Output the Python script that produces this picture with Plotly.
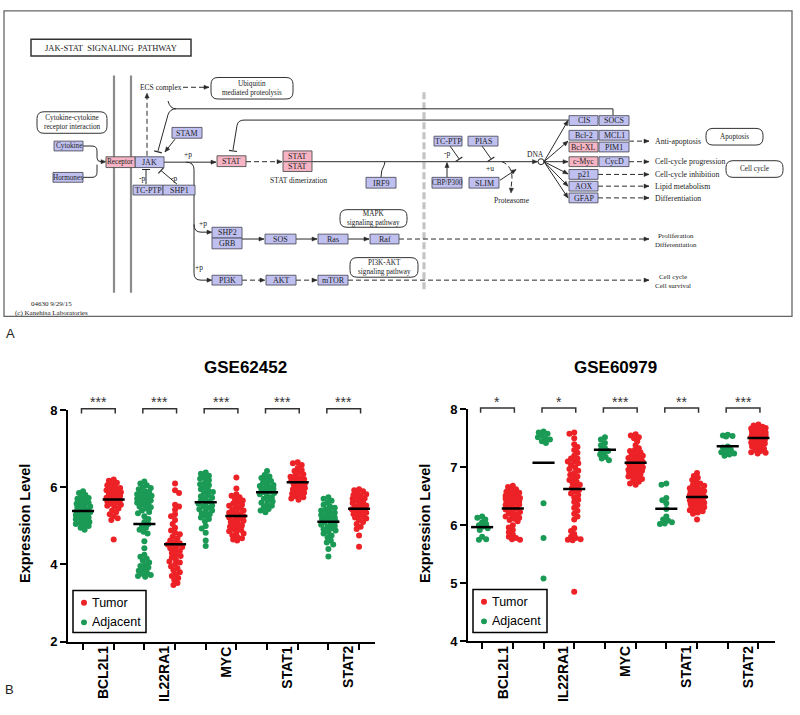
import math
import plotly.graph_objects as go

# ======================= DATA =======================
GENES = ["BCL2L1", "IL22RA1", "MYC", "STAT1", "STAT2"]
GROUP_NAMES = ["Tumor", "Adjacent"]
DATASETS = ["GSE62452", "GSE60979"]
SIG_GSE62452 = ["***", "***", "***", "***", "***"]
SIG_GSE60979 = ["*", "*", "***", "**", "***"]
YTICKS_GSE62452 = [2, 4, 6, 8]
YTICKS_GSE60979 = [4, 5, 6, 7, 8]
Y_TITLE = "Expression Level"

# GSE62452 - Adjacent
adj62_BCL2L1 = [5.90, 5.85, 5.80, 5.75, 5.72, 5.70, 5.66, 5.62, 5.60, 5.57, 5.55, 5.52, 5.50, 5.48, 5.45,
                5.42, 5.40, 5.38, 5.37, 5.35, 5.33, 5.30, 5.28, 5.25, 5.22, 5.20, 5.17, 5.13, 5.10, 5.08,
                5.05, 5.02, 5.00, 4.95, 4.90]
adj62_IL22RA1 = [6.15, 6.10, 6.05, 6.00, 5.98, 5.95, 5.90, 5.88, 5.85, 5.82, 5.80, 5.78, 5.75, 5.72, 5.70,
                 5.66, 5.65, 5.62, 5.60, 5.58, 5.54, 5.50, 5.48, 5.45, 5.40, 5.36, 5.33, 5.25, 5.18, 5.10,
                 5.05, 5.00, 4.95, 4.90, 4.85, 4.80, 4.60, 4.42, 4.25, 4.20, 4.15, 4.10, 4.05, 4.00, 3.96,
                 3.92, 3.88, 3.84, 3.80, 3.76, 3.73, 3.70, 3.68]
adj62_MYC = [6.38, 6.35, 6.30, 6.25, 6.22, 6.18, 6.12, 6.08, 6.05, 6.00, 5.95, 5.92, 5.88, 5.85, 5.80,
             5.77, 5.73, 5.70, 5.66, 5.63, 5.60, 5.57, 5.53, 5.50, 5.47, 5.43, 5.40, 5.37, 5.33, 5.30,
             5.26, 5.22, 5.18, 5.12, 5.00, 4.93, 4.82, 4.62, 4.48]
adj62_STAT1 = [6.42, 6.32, 6.28, 6.24, 6.20, 6.16, 6.12, 6.09, 6.06, 6.03, 6.00, 5.98, 5.96, 5.94, 5.92,
               5.90, 5.88, 5.85, 5.82, 5.78, 5.74, 5.70, 5.67, 5.63, 5.60, 5.56, 5.52, 5.48, 5.44, 5.40,
               5.35]
adj62_STAT2 = [5.74, 5.70, 5.65, 5.60, 5.55, 5.50, 5.47, 5.43, 5.40, 5.37, 5.34, 5.31, 5.28, 5.25, 5.22,
               5.20, 5.18, 5.16, 5.14, 5.12, 5.09, 5.06, 5.03, 5.00, 4.97, 4.94, 4.91, 4.88, 4.84, 4.80,
               4.75, 4.70, 4.62, 4.57, 4.52, 4.40, 4.21]

# GSE62452 - Tumor
tum62_BCL2L1 = [6.20, 6.17, 6.12, 6.08, 6.05, 6.00, 5.98, 5.95, 5.92, 5.90, 5.87, 5.85, 5.82, 5.80, 5.78,
                5.75, 5.73, 5.70, 5.69, 5.68, 5.66, 5.63, 5.60, 5.57, 5.55, 5.52, 5.50, 5.45, 5.40, 5.35,
                5.30, 5.25, 5.20, 5.15, 4.65]
tum62_IL22RA1 = [6.10, 5.92, 5.85, 5.55, 5.50, 5.42, 5.30, 5.25, 5.15, 5.05, 4.95, 4.88, 4.82, 4.78, 4.72,
                 4.68, 4.62, 4.58, 4.55, 4.52, 4.50, 4.48, 4.45, 4.42, 4.38, 4.35, 4.30, 4.25, 4.22, 4.18,
                 4.12, 4.08, 4.05, 4.00, 3.95, 3.90, 3.85, 3.80, 3.75, 3.70, 3.65, 3.60, 3.52, 3.47]
tum62_MYC = [6.25, 5.97, 5.82, 5.78, 5.74, 5.70, 5.66, 5.62, 5.58, 5.55, 5.52, 5.49, 5.46, 5.43, 5.40,
             5.37, 5.34, 5.31, 5.29, 5.27, 5.25, 5.22, 5.19, 5.16, 5.13, 5.10, 5.07, 5.04, 5.01, 4.98,
             4.95, 4.92, 4.89, 4.86, 4.83, 4.80, 4.76, 4.72, 4.68, 4.65, 4.62]
tum62_STAT1 = [6.65, 6.62, 6.58, 6.50, 6.45, 6.42, 6.38, 6.34, 6.30, 6.27, 6.24, 6.21, 6.19, 6.17, 6.15,
               6.13, 6.10, 6.07, 6.04, 6.01, 5.98, 5.95, 5.92, 5.89, 5.86, 5.83, 5.80, 5.77, 5.74, 5.71,
               5.68]
tum62_STAT2 = [5.95, 5.92, 5.90, 5.86, 5.82, 5.80, 5.78, 5.74, 5.71, 5.70, 5.68, 5.65, 5.62, 5.59, 5.56,
               5.53, 5.51, 5.49, 5.47, 5.45, 5.43, 5.40, 5.37, 5.34, 5.31, 5.28, 5.25, 5.22, 5.19, 5.15,
               5.10, 5.05, 4.98, 4.92, 4.75, 4.46]

# GSE60979 - Adjacent
adj60_BCL2L1 = [6.15, 6.13, 6.10, 6.05, 6.02, 6.00, 5.98, 5.95, 5.92, 5.80, 5.76, 5.75]
adj60_IL22RA1 = [7.62, 7.60, 7.58, 7.55, 7.52, 7.50, 7.48, 7.45, 7.42, 6.38, 5.78, 5.08]
adj60_MYC = [7.52, 7.48, 7.42, 7.38, 7.33, 7.30, 7.28, 7.25, 7.22, 7.18, 7.15, 7.12]
adj60_STAT1 = [6.72, 6.70, 6.47, 6.43, 6.38, 6.28, 6.15, 6.10, 6.08, 6.05, 6.03, 6.02]
adj60_STAT2 = [7.56, 7.55, 7.54, 7.53, 7.36, 7.34, 7.30, 7.28, 7.26, 7.24, 7.22, 7.20]

# GSE60979 - Tumor
tum60_BCL2L1 = [6.68, 6.66, 6.62, 6.60, 6.58, 6.56, 6.54, 6.52, 6.50, 6.48, 6.51, 6.50, 6.49, 6.48, 6.47,
                6.46, 6.45, 6.44, 6.43, 6.42, 6.41, 6.40, 6.39, 6.38, 6.36, 6.35, 6.33, 6.31, 6.29, 6.27,
                6.25, 6.23, 6.21, 6.19, 6.17, 6.15, 6.13, 6.11, 6.09, 6.07, 6.00, 5.96, 5.92, 5.88, 5.84,
                5.80, 5.78, 5.76, 5.75]
tum60_IL22RA1 = [7.60, 7.58, 7.50, 7.40, 7.35, 7.30, 7.25, 7.20, 7.15, 7.10, 7.15, 7.10, 7.07, 7.04, 7.00,
                 6.97, 6.94, 6.90, 6.87, 6.84, 6.81, 6.78, 6.75, 6.72, 6.70, 6.67, 6.64, 6.61, 6.58, 6.55,
                 6.52, 6.48, 6.44, 6.40, 6.35, 6.30, 6.25, 6.20, 6.15, 6.10, 5.95, 5.90, 5.85, 5.80, 5.78,
                 5.76, 5.75, 5.74, 4.85]
tum60_MYC = [7.57, 7.55, 7.52, 7.50, 7.45, 7.38, 7.33, 7.30, 7.28, 7.26, 7.24, 7.22, 7.20, 7.18, 7.16,
             7.15, 7.14, 7.12, 7.11, 7.10, 7.09, 7.08, 7.07, 7.06, 7.05, 7.04, 7.03, 7.02, 7.01, 7.00,
             6.99, 6.98, 6.97, 6.96, 6.95, 6.94, 6.93, 6.92, 6.91, 6.90, 6.88, 6.86, 6.84, 6.82, 6.80,
             6.78, 6.75, 6.72, 6.70]
tum60_STAT1 = [6.90, 6.85, 6.82, 6.78, 6.75, 6.72, 6.70, 6.68, 6.66, 6.64, 6.62, 6.61, 6.60, 6.59, 6.58,
               6.57, 6.56, 6.55, 6.54, 6.53, 6.52, 6.51, 6.50, 6.49, 6.48, 6.47, 6.46, 6.45, 6.44, 6.43,
               6.42, 6.41, 6.40, 6.39, 6.38, 6.37, 6.36, 6.35, 6.34, 6.33, 6.32, 6.31, 6.30, 6.28, 6.26,
               6.24, 6.22, 6.20, 6.10]
tum60_STAT2 = [7.74, 7.72, 7.70, 7.69, 7.68, 7.67, 7.66, 7.65, 7.64, 7.63, 7.62, 7.61, 7.60, 7.59, 7.58,
               7.57, 7.56, 7.55, 7.54, 7.53, 7.53, 7.52, 7.52, 7.51, 7.51, 7.50, 7.50, 7.49, 7.49, 7.48,
               7.48, 7.47, 7.47, 7.46, 7.45, 7.44, 7.43, 7.42, 7.41, 7.40, 7.38, 7.36, 7.34, 7.32, 7.30,
               7.28, 7.26, 7.25, 7.24]

ADJ_GSE62452 = [adj62_BCL2L1, adj62_IL22RA1, adj62_MYC, adj62_STAT1, adj62_STAT2]
TUM_GSE62452 = [tum62_BCL2L1, tum62_IL22RA1, tum62_MYC, tum62_STAT1, tum62_STAT2]
ADJ_GSE60979 = [adj60_BCL2L1, adj60_IL22RA1, adj60_MYC, adj60_STAT1, adj60_STAT2]
TUM_GSE60979 = [tum60_BCL2L1, tum60_IL22RA1, tum60_MYC, tum60_STAT1, tum60_STAT2]

# ======================= STYLE =======================
W, H = 800, 715
RED = "#ec2227"
GREEN = "#1b9a56"
SANS = "Liberation Sans, Arial, sans-serif"
SERIF = "Liberation Serif, Times New Roman, serif"
LAV = "#bfc0f0"
PINK = "#f6b4c4"
LINE = "#2a2a2a"
TXT = "#222222"
XPU = 30.67  # pixels per x unit on both dot plots


def py(p):
    return 1 - p / H


def px(p):
    return p / W


def swarm(vals, ypu, dmin=4.3, cap=7.2):
    """deterministic beeswarm offsets (x units), width capped like a Prism dot plot"""
    order = sorted(range(len(vals)), key=lambda i: -vals[i])
    placed = []
    offs = [0.0] * len(vals)
    for n, i in enumerate(order):
        yv = vals[i] * ypu
        sgn = 1 if n % 2 == 0 else -1
        cand = [0.0]
        s = 1
        while s * 0.8 <= cap:
            cand += [sgn * s * 0.8, -sgn * s * 0.8]
            s += 1
        best, bestd = 0.0, -1.0
        for c in cand:
            d = min([math.hypot(c - a, yv - b) for a, b in placed] or [99])
            if d >= dmin:
                best = c
                break
            if d > bestd + 0.3:
                best, bestd = c, d
        placed.append((best, yv))
        offs[i] = best / XPU
    return offs


fig = go.Figure()
shapes = []
anns = []

PANELS = [
    dict(name=DATASETS[0], xa="x", ya="y", adj=ADJ_GSE62452, tum=TUM_GSE62452, sig=SIG_GSE62452,
         ypu=39.43, xdom=[px(68), px(375)], ydom=[py(648.3), py(411.7)], yr=[2, 8],
         yt=YTICKS_GSE62452, xr=[-0.49, 9.52], cx=245, ytx=25, leg=(73, 596, 146, 639)),
    dict(name=DATASETS[1], xa="x2", ya="y2", adj=ADJ_GSE60979, tum=TUM_GSE60979, sig=SIG_GSE60979,
         ypu=59.17, xdom=[px(468), px(775)], ydom=[py(647.7), py(411)], yr=[4, 8],
         yt=YTICKS_GSE60979, xr=[-0.46, 9.54], cx=615, ytx=425, leg=(473, 595, 547, 639)),
]

for k, P in enumerate(PANELS):
    xa, ya = P["xa"], P["ya"]
    for gi, gene in enumerate(GENES):
        for j, (vals, col) in enumerate([(P["adj"][gi], GREEN), (P["tum"][gi], RED)]):
            pos = 2 * gi + j
            offs = swarm(vals, P["ypu"])
            fig.add_trace(go.Scatter(
                x=[pos + o for o in offs], y=vals, mode="markers", xaxis=xa, yaxis=ya,
                marker=dict(color=col, size=6, line=dict(width=0)), showlegend=False,
                name=GROUP_NAMES[1 - j], hoverinfo="skip"))
            m = sum(vals) / len(vals)
            fig.add_trace(go.Scatter(
                x=[pos - 0.36, pos + 0.36], y=[m, m], mode="lines", xaxis=xa, yaxis=ya,
                line=dict(color="black", width=2.5), showlegend=False, hoverinfo="skip"))
        # significance bracket
        shapes.append(dict(type="path", xref=xa, yref=ya + " domain",
                           path=f"M {2*gi-0.05},0.985 L {2*gi-0.05},1.006 L {2*gi+1.05},1.006 L {2*gi+1.05},0.985",
                           line=dict(color="#333", width=1.5)))
        anns.append(dict(text=P["sig"][gi], xref=xa, yref="paper", x=2 * gi + 0.5, y=py(403),
                         showarrow=False, font=dict(family=SANS, size=14, color="#333"),
                         xanchor="center", yanchor="middle"))
        anns.append(dict(text=gene, xref=xa, yref="paper", x=2 * gi + 0.66, y=py(651),
                         showarrow=False, textangle=-90, xanchor="center", yanchor="top",
                         font=dict(family=SANS, size=14, color="black", weight="bold")))
    ax_common = dict(showgrid=False, zeroline=False, showline=True, linecolor="black", linewidth=2,
                     ticks="outside", tickcolor="black", ticklen=6, tickwidth=2)
    fig.update_layout(**{
        ("xaxis" if xa == "x" else "xaxis2"): dict(domain=P["xdom"], range=P["xr"], anchor=ya,
                                                  tickvals=list(range(10)), ticktext=[""] * 10,
                                                  fixedrange=True, **ax_common),
        ("yaxis" if ya == "y" else "yaxis2"): dict(domain=P["ydom"], range=P["yr"], anchor=xa,
                                                  tickvals=P["yt"], fixedrange=True,
                                                  tickfont=dict(family=SANS, size=13, color="black",
                                                                weight="bold"), **ax_common),
    })
    anns.append(dict(text=P["name"], xref="paper", yref="paper", x=px(P["cx"]), y=py(368),
                     xanchor="center", yanchor="middle", showarrow=False,
                     font=dict(family=SANS, size=17, color="black", weight="bold")))
    anns.append(dict(text=Y_TITLE, xref="paper", yref="paper", x=px(P["ytx"]), y=py(528),
                     xanchor="center", yanchor="middle", showarrow=False, textangle=-90,
                     font=dict(family=SANS, size=14.5, color="black", weight="bold")))
    # legend box (manual, compact like the original)
    x0, y0, x1, y1 = P["leg"]
    shapes.append(dict(type="rect", xref="paper", yref="paper", x0=px(x0), x1=px(x1), y0=py(y0), y1=py(y1),
                       line=dict(color="black", width=1.5), fillcolor="white"))
    for r, (lab, col) in enumerate([(GROUP_NAMES[0], RED), (GROUP_NAMES[1], GREEN)]):
        cyp = y0 + 12.5 + r * 20
        shapes.append(dict(type="circle", xref="paper", yref="paper", x0=px(x0 + 8), x1=px(x0 + 14),
                           y0=py(cyp - 3), y1=py(cyp + 3), fillcolor=col, line=dict(width=0)))
        anns.append(dict(text=lab, xref="paper", yref="paper", x=px(x0 + 17), y=py(cyp),
                         xanchor="left", yanchor="middle", showarrow=False,
                         font=dict(family=SANS, size=12.5, color="black")))

# ======================= PATHWAY DIAGRAM (pixel coordinates) =======================
D = dict(xref="x3", yref="y3")

LAV_NODES = [("Cytokine", 54, 137, 83, 147), ("Hormones", 53, 169, 83, 179), ("JAK", 135, 153, 164, 164),
             ("STAM", 172, 123, 202, 134), ("TC-PTP", 133, 182, 163, 192), ("SHP1", 163, 182, 195, 192),
             ("SHP2", 212, 225, 242, 236), ("GRB", 212, 236, 242, 247), ("SOS", 265, 232, 296, 242),
             ("Ras", 318, 232, 348, 242), ("Raf", 370, 232, 399, 242), ("PI3K", 212, 274, 242, 284),
             ("AKT", 266, 274, 296, 284), ("mTOR", 318, 274, 348, 284), ("IRF9", 366, 174, 396, 185),
             ("TC-PTP", 434, 132, 462, 142), ("PIAS", 468, 132, 498, 142), ("CBP/P300", 432, 174, 462, 185),
             ("SLIM", 469, 174, 499, 185), ("CIS", 569, 111, 598, 121), ("SOCS", 599, 111, 629, 121),
             ("Bcl-2", 569, 126, 598, 136), ("MCL1", 599, 126, 629, 136), ("PIM1", 599, 138, 629, 148),
             ("CycD", 599, 153, 629, 163), ("p21", 569, 166, 598, 176), ("AOX", 569, 178, 598, 188),
             ("GFAP", 569, 190, 598, 200)]
PINK_NODES = [("Receptor", 106, 153, 135, 164), ("STAT", 217, 152, 246, 163), ("STAT", 283, 147, 312, 158),
              ("STAT", 283, 158, 312, 168), ("Bcl-XL", 569, 138, 598, 148), ("c-Myc", 569, 153, 598, 163)]
MAP_NODES = [("Cytokine-cytokine<br>receptor interaction", 37, 107, 107, 129),
             ("Ubiquitin<br>mediated proteolysis", 211, 72, 293, 94),
             ("MAPK<br>signaling pathway", 340, 207, 407, 225),
             ("PI3K-AKT<br>signaling pathway", 350, 256, 418, 276),
             ("Apoptosis", 706, 124, 763, 141), ("Cell cycle", 726, 157, 783, 174)]
LABELS = [("ECS complex", 161, 82, "center"), ("+p", 188, 151, "center"), ("STAT dimerization", 298, 177, "center"),
          ("-p", 142, 175, "center"), ("-p", 174, 175, "center"), ("+p", 203, 221, "center"),
          ("+p", 199, 266, "center"), ("DNA", 535, 151, "center"), ("-p", 447, 150, "center"),
          ("+u", 490, 165, "center"), ("Proteasome", 512, 198, "center"),
          ("Anti-apoptosis", 654, 137, "left"), ("Cell-cycle progression", 654, 158, "left"),
          ("Cell-cycle inhibition", 654, 171, "left"), ("Lipid metabolism", 654, 183, "left"),
          ("Differentiation", 654, 196, "left")]
LABELS_2LINE = [("Proliferation<br>Differentiation", 654, 238.5, "left"),
                ("Cell cycle<br>Cell survival", 654, 280, "left"),
                ("04630 9/29/15<br>(c) Kanehisa Laboratories", 14, 307.5, "left")]


def dline(path, dash="solid", width=1.0, color=LINE):
    shapes.append(dict(type="path", path=path, line=dict(color=color, width=width, dash=dash), **D))


def poly(pts):
    return "M " + " L ".join(f"{a},{b}" for a, b in pts)


def head(tip, frm, size=5.0):
    dx, dy = tip[0] - frm[0], tip[1] - frm[1]
    n = math.hypot(dx, dy)
    ux, uy = dx / n, dy / n
    bx, by = tip[0] - ux * size, tip[1] - uy * size
    qx, qy = -uy * size * 0.42, ux * size * 0.42
    shapes.append(dict(type="path", path=f"M {tip[0]},{tip[1]} L {bx+qx},{by+qy} L {bx-qx},{by-qy} Z",
                       fillcolor=LINE, line=dict(color=LINE, width=0.5), **D))


def arrow(pts, dash="solid"):
    dline(poly(pts), dash)
    head(pts[-1], pts[-2])


def tbar(tip, frm, half=4.0):
    dx, dy = tip[0] - frm[0], tip[1] - frm[1]
    n = math.hypot(dx, dy)
    qx, qy = -dy / n * half, dx / n * half
    dline(poly([(tip[0] + qx, tip[1] + qy), (tip[0] - qx, tip[1] - qy)]), width=1.2)


def text(t, x, y, anchor="center", size=7.5):
    anns.append(dict(text=t, x=x, y=y, xanchor=anchor, yanchor="middle", showarrow=False, borderpad=0,
                     font=dict(family=SERIF, size=size, color=TXT), **D))


def node_size(lab):
    return 8 if len(lab) <= 6 else 7.2


DASH = "5px,3px"

# frame and title
shapes.append(dict(type="rect", x0=4, y0=4, x1=792, y1=316, line=dict(color="#666", width=1.3), **D))
shapes.append(dict(type="rect", x0=31, y0=33, x1=191, y1=50, line=dict(color="#333", width=1.5), **D))
text("JAK-STAT&nbsp;&nbsp;SIGNALING&nbsp;&nbsp;PATHWAY", 111, 41.5, size=8.5)
# membrane and nucleus separator
dline(poly([(114, 70), (114, 292)]), width=2.2, color="#8c8c8c")
dline(poly([(131, 70), (131, 292)]), width=2.2, color="#8c8c8c")
dline(poly([(424, 87), (424, 290)]), dash="7px,3px", width=3.2, color="#c4c4c4")

# connectors
dline("M 83,142 L 92,142 Q 97,142 97,147 L 97,154 Q 97,158 101,158 L 104,158")
head((106, 158), (100, 158))
dline("M 83,174 L 92,174 Q 97,174 97,169 L 97,161")
arrow([(164, 158.5), (216, 158.5)])
dline("M 186,158.5 Q 194,158.5 194,166 L 194,272 Q 194,279 201,279 L 210,279")
head((212, 279), (205, 279))
dline("M 194,222 Q 194,230 201,230 L 210,230")
head((212, 230), (205, 230))
arrow([(175, 135), (165, 148)])
dline(poly([(146, 181), (146, 166)]))
tbar((146, 166), (146, 181))
dline(poly([(177, 181), (161, 167)]))
tbar((161, 167), (177, 181))
dline("M 613,111 L 613,104 L 176,104 Q 170,104 168,110 L 158,147")
tbar((158, 148), (168, 110))
dline("M 176,104 Q 170,104 168,96")
arrow([(147, 152), (147, 88)], dash=DASH)
arrow([(183, 82), (209, 82)], dash=DASH)
dline("M 569,115.5 L 244,115.5 Q 238,115.5 237,121 L 233,146")
tbar((233, 147), (237, 121))
arrow([(246, 158), (282, 158)], dash=DASH)
arrow([(312, 158), (537.5, 158)])
dline("M 381,174 Q 381,166 384,162 L 385,158")
dline(poly([(450, 142), (459, 155)]))
tbar((459, 155.5), (450, 142))
dline(poly([(482, 142), (491, 155)]))
tbar((491, 155.5), (482, 142))
arrow([(447, 174), (447, 159)])
arrow([(500, 177), (516, 166)])
dline("M 502,158 Q 512,162 512,175 L 511,186", dash=DASH)
head((511, 190), (511.5, 184))
shapes.append(dict(type="circle", x0=538, x1=544, y0=155, y1=161, fillcolor="white",
                   line=dict(color=LINE, width=1), **D))
for ty in [116, 137, 158, 170.5, 183, 195]:
    arrow([(544, 158), (568, ty)])
for (xa0, yy) in [(629, 137), (629, 158), (598, 171), (598, 183), (598, 195)]:
    arrow([(xa0, yy), (649, yy)], dash=DASH)
arrow([(242, 237), (264, 237)])
arrow([(296, 237), (317, 237)])
arrow([(348, 237), (369, 237)])
arrow([(399, 237), (649, 237)], dash=DASH)
arrow([(242, 279), (265, 279)], dash=DASH)
arrow([(296, 279), (317, 279)], dash=DASH)
arrow([(348, 279), (649, 279)], dash=DASH)

# nodes
for lab, x0, y0, x1, y1 in LAV_NODES:
    shapes.append(dict(type="rect", x0=x0, y0=y0, x1=x1, y1=y1, fillcolor=LAV,
                       line=dict(color="#505060", width=0.9), **D))
    text(lab, (x0 + x1) / 2, (y0 + y1) / 2 + 0.3, size=node_size(lab))
for lab, x0, y0, x1, y1 in PINK_NODES:
    shapes.append(dict(type="rect", x0=x0, y0=y0, x1=x1, y1=y1, fillcolor=PINK,
                       line=dict(color="#505050", width=0.9), **D))
    text(lab, (x0 + x1) / 2, (y0 + y1) / 2 + 0.3, size=node_size(lab))
for lab, x0, y0, x1, y1 in MAP_NODES:
    r = 7
    shapes.append(dict(type="path", path=(f"M {x0+r},{y0} L {x1-r},{y0} Q {x1},{y0} {x1},{y0+r} "
                                          f"L {x1},{y1-r} Q {x1},{y1} {x1-r},{y1} L {x0+r},{y1} "
                                          f"Q {x0},{y1} {x0},{y1-r} L {x0},{y0+r} Q {x0},{y0} {x0+r},{y0} Z"),
                       fillcolor="white", line=dict(color="#333", width=1), **D))
    text(lab, (x0 + x1) / 2, (y0 + y1) / 2, size=7.2)
for lab, x, y, anc in LABELS:
    text(lab, x, y, anc, size=7.8 if anc == "left" else 7.5)
for lab, x, y, anc in LABELS_2LINE:
    text(lab, x, y, anc, size=7)

# panel letters
anns.append(dict(text="A", xref="paper", yref="paper", x=px(4), y=py(334), xanchor="left", showarrow=False,
                 font=dict(family=SANS, size=13, color="#222")))
anns.append(dict(text="B", xref="paper", yref="paper", x=px(3), y=py(707), xanchor="left", showarrow=False,
                 font=dict(family=SANS, size=13, color="#222")))

fig.update_layout(
    width=W, height=H, margin=dict(l=0, r=0, t=0, b=0),
    paper_bgcolor="white", plot_bgcolor="white", showlegend=False,
    xaxis3=dict(domain=[0, 1], range=[0, 800], visible=False, anchor="y3", fixedrange=True),
    yaxis3=dict(domain=[py(325), 1], range=[325, 0], visible=False, anchor="x3", fixedrange=True),
    shapes=shapes, annotations=anns,
)

fig.write_html("out.html", config={"displayModeBar": False},
               post_script="document.body.style.margin='0px';")
